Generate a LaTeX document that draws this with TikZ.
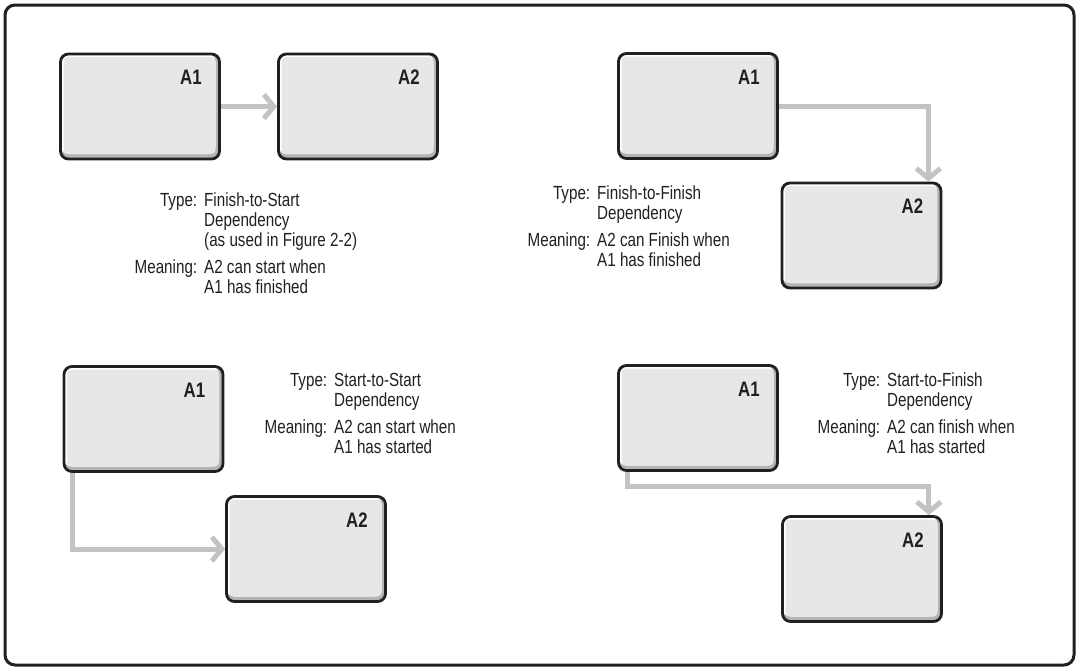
\documentclass[tikz,border=0pt]{standalone}
\usepackage{fontspec}
\setmainfont{Liberation Sans}[FakeStretch=0.8]
\usetikzlibrary{arrows.meta,calc,backgrounds}

\definecolor{ink}{HTML}{231F20}
\definecolor{boxfill}{HTML}{E6E7E8}
\definecolor{boxshade}{HTML}{B3B4B6}
\definecolor{linkgray}{HTML}{C2C3C5}

\newlength\deplab
\setlength\deplab{66pt}
% two-column note: right-aligned caption, left-aligned text
\newcommand\depcap[1]{\makebox[\deplab][r]{#1}}

\begin{document}
\begin{tikzpicture}[x=1pt,y=-1pt,
  task/.style={draw=ink, line width=2.8pt, rounded corners=8pt, fill=boxshade,
    minimum width=159pt, minimum height=105pt, inner sep=0pt,
    path picture={
      \fill[white] (path picture bounding box.north west) rectangle
        ([shift={(-4pt,5pt)}]path picture bounding box.south east);
      \fill[boxfill, rounded corners=4pt]
        ([shift={(3pt,-3pt)}]path picture bounding box.north west) rectangle
        ([shift={(-4pt,5pt)}]path picture bounding box.south east);
    }},
  tasklabel/.style={anchor=center, xshift=-30pt, yshift=-25pt, inner sep=0pt,
    text=ink, font=\bfseries\fontsize{21}{21}\selectfont},
  link/.style={draw=linkgray, line width=5pt,
    -{Straight Barb[length=10pt,width=24pt]}},
  deptext/.style={anchor=north west, inner sep=0pt, text=ink,
    font=\fontsize{19}{20}\selectfont},
]
\useasboundingbox (0,0) rectangle (1078,670);

% outer frame
\draw[ink, line width=3pt, rounded corners=10pt] (5,5) rectangle (1074,665);

% Finish-to-Start
\node[task, label={[tasklabel]north east:A1}] (fsA1) at (140,106.5) {};
\node[task, label={[tasklabel]north east:A2}] (fsA2) at (358,106.5) {};
\node[deptext] (fsNote) at (204-7-66,192) {\begin{tabular}{@{}l@{\hspace{7pt}}l@{}}
  \depcap{Type:} & Finish-to-Start\\
   & Dependency\\
   & (as used in Figure 2-2)\\[7pt]
  \depcap{Meaning:} & A2 can start when\\
   & A1 has finished
  \end{tabular}};

% Finish-to-Finish
\node[task, label={[tasklabel]north east:A1}] (ffA1) at (698,106) {};
\node[task, label={[tasklabel]north east:A2}] (ffA2) at (861.5,235.5) {};
\node[deptext] (ffNote) at (597-7-66,185) {\begin{tabular}{@{}l@{\hspace{7pt}}l@{}}
  \depcap{Type:} & Finish-to-Finish\\
   & Dependency\\[7pt]
  \depcap{Meaning:} & A2 can Finish when\\
   & A1 has finished
  \end{tabular}};

% Start-to-Start
\node[task, label={[tasklabel]north east:A1}] (ssA1) at (143.5,419) {};
\node[task, label={[tasklabel]north east:A2}] (ssA2) at (306,549) {};
\node[deptext] (ssNote) at (334-7-66,372.5) {\begin{tabular}{@{}l@{\hspace{7pt}}l@{}}
  \depcap{Type:} & Start-to-Start\\
   & Dependency\\[7pt]
  \depcap{Meaning:} & A2 can start when\\
   & A1 has started
  \end{tabular}};

% Start-to-Finish
\node[task, label={[tasklabel]north east:A1}] (sfA1) at (698,418) {};
\node[task, label={[tasklabel]north east:A2}] (sfA2) at (862,569) {};
\node[deptext] (sfNote) at (887-7-66,372.5) {\begin{tabular}{@{}l@{\hspace{7pt}}l@{}}
  \depcap{Type:} & Start-to-Finish\\
   & Dependency\\[7pt]
  \depcap{Meaning:} & A2 can finish when\\
   & A1 has started
  \end{tabular}};

% dependency links, kept behind the boxes
\begin{scope}[on background layer]
  \draw[link] (fsA1) -- (fsA2);
  \draw[link] (ffA1.east) -| ($(ffA2.north east)+(-14,0)$);
  \draw[link] ($(ssA1.south west)+(10,0)$) |- (ssA2.west);
  \draw[link] ($(sfA1.south west)+(10,0)$) -- ++(0,15) -| ($(sfA2.north east)+(-14,0)$);
\end{scope}
\end{tikzpicture}
\end{document}
